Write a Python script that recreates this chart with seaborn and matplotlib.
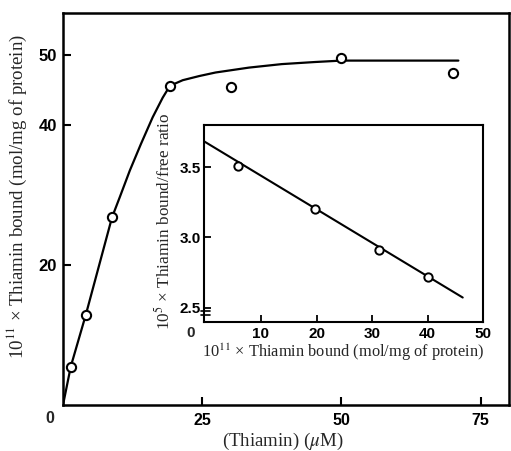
import matplotlib
matplotlib.use("Agg")
import matplotlib.pyplot as plt
import seaborn as sns

# ---- data ----
main_x = [1.4, 4.1, 8.8, 19.2, 30.1, 50.0, 70.0]
main_y = [5.5, 12.9, 26.8, 45.6, 45.5, 49.6, 47.5]

curve_x = [0.0, 1.4, 4.1, 8.8, 10.2, 12.0, 14.0, 16.1, 17.9, 19.2, 21.5, 24.5,
           27.4, 33.4, 39.3, 45.3, 50.0, 57.2, 71.0]
curve_y = [0.0, 5.5, 12.9, 26.8, 29.7, 33.5, 37.3, 41.1, 43.9, 45.6, 46.4, 47.0,
           47.5, 48.2, 48.7, 49.0, 49.2, 49.2, 49.2]

inset_x = [5.9, 19.8, 31.3, 40.0]
inset_y = [3.51, 3.20, 2.908, 2.717]

fit_x = [-0.25, 46.3]
fit_y = [3.684, 2.572]

main_xticks = [25, 50, 75]
main_yticks = [20, 40, 50]
inset_xticks = [10, 20, 30, 40, 50]
inset_yticks = [2.5, 3.0, 3.5]

sns.set_style("ticks")
plt.rcParams["mathtext.fontset"] = "stix"
plt.rcParams["font.family"] = ["Liberation Serif", "DejaVu Serif"]

fig = plt.figure(figsize=(5.11, 4.51), dpi=100)
ax = fig.add_axes([63 / 511, 1 - 405 / 451, (508.5 - 63) / 511, (405 - 13) / 451])
ins = fig.add_axes([204 / 511, 1 - 321.7 / 451, (483.3 - 204) / 511, (321.7 - 125) / 451])

tick_font = dict(family="Liberation Sans", weight="bold")

# ---- main axes ----
sns.lineplot(x=curve_x, y=curve_y, ax=ax, color="black", lw=1.6, sort=False)
sns.scatterplot(x=main_x, y=main_y, ax=ax, marker="o", s=44, facecolor="white",
                edgecolor="black", linewidth=1.5, zorder=3)
ax.set_xlim(0, 80)
ax.set_ylim(0, 56)
ax.set_xticks(main_xticks)
ax.set_yticks(main_yticks)
ax.set_xticklabels([str(t) for t in main_xticks], fontsize=11.5, **tick_font)
ax.set_yticklabels([str(t) for t in main_yticks], fontsize=12, **tick_font)
ax.tick_params(direction="in", length=6, width=1.5, colors="black")
ax.tick_params(axis="x", pad=6)
ax.tick_params(axis="y", pad=4.5)
for s in ax.spines.values():
    s.set_visible(True)
    s.set_linewidth(1.8)
    s.set_color("black")
ax.annotate("0", xy=(0, 0), xycoords="data", xytext=(-9.4, -10),
            textcoords="offset points", ha="center", va="center",
            fontsize=11.5, **tick_font)
ax.set_xlabel(r"(Thiamin) ($\mu$M)", fontsize=13.6)
ax.xaxis.set_label_coords(0.493, -0.065)
ax.set_ylabel(r"10$^{11}$ × Thiamin bound (mol/mg of protein)", fontsize=13.6)
ax.yaxis.set_label_coords(-0.076, 0.533)

# ---- inset ----
sns.lineplot(x=fit_x, y=fit_y, ax=ins, color="black", lw=1.5)
sns.scatterplot(x=inset_x, y=inset_y, ax=ins, marker="o", s=36, facecolor="white",
                edgecolor="black", linewidth=1.4, zorder=3)
ins.set_xlim(-0.25, 50)
ins.set_ylim(2.40, 3.80)
ins.set_xticks(inset_xticks)
ins.set_yticks(inset_yticks)
ins.set_xticklabels([str(t) for t in inset_xticks], fontsize=11, **tick_font)
ins.set_yticklabels([f"{t:.1f}" for t in inset_yticks], fontsize=11, **tick_font)
ins.tick_params(direction="in", length=5, width=1.3, colors="black")
ins.tick_params(axis="x", pad=4)
ins.tick_params(axis="y", pad=2.5)
for s in ins.spines.values():
    s.set_visible(True)
    s.set_linewidth(1.5)
    s.set_color("black")
# axis break mark on the inset y axis
for yy in (0.055, 0.035):
    ins.plot([-0.012, 0.02], [yy, yy], transform=ins.transAxes, color="black",
             lw=1.2, clip_on=False)
ins.annotate("0", xy=(0, 0), xycoords="axes fraction", xytext=(-9.6, -8.1),
             textcoords="offset points", ha="center", va="center",
             fontsize=11, **tick_font)
ins.set_xlabel(r"10$^{11}$ × Thiamin bound (mol/mg of protein)", fontsize=11.8)
ins.xaxis.set_label_coords(0.4995, -0.100)
ins.set_ylabel(r"10$^{5}$ × Thiamin bound/free ratio", fontsize=12.4)
ins.yaxis.set_label_coords(-0.107, 0.509)

fig.savefig("out.png", dpi=100)
